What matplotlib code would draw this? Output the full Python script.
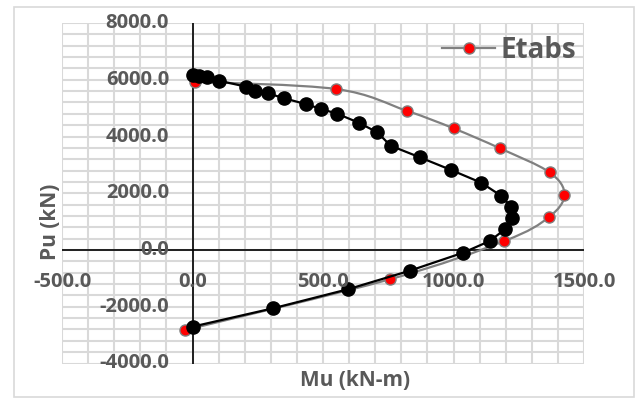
import matplotlib.pyplot as plt
from matplotlib.path import Path
from matplotlib.patches import PathPatch, Rectangle
from matplotlib.lines import Line2D
import numpy as np

# Interaction diagram: ETABS curve vs. hand calculation
etabs_mu = [10, 550, 820, 1000, 1178, 1368, 1425, 1365, 1195, 758, -27]
etabs_pu = [5930, 5673, 4909, 4288, 3583, 2737, 1950, 1152, 317, -1027, -2819]

calc_mu = [0, 24, 56, 101, 206, 241, 289, 352, 433, 493, 554, 637, 708, 759,
           871, 991, 1106, 1181, 1221, 1225, 1197, 1139, 1037, 833, 595, 309, 0]
calc_pu = [6150, 6142, 6107, 5966, 5755, 5613, 5521, 5345, 5144, 4968, 4804,
           4486, 4147, 3676, 3266, 2819, 2372, 1920, 1526, 1117, 729, 317, -95,
           -729, -1385, -2054, -2702]

x_ticks = [-500, 0, 500, 1000, 1500]
y_ticks = [-4000, -2000, 0, 2000, 4000, 6000, 8000]

GRID = '#d9d9d9'
TEXT = '#595959'
FONT = 'Open Sans'


def smooth_path(xs, ys):
    # Excel-style smoothed line: cubic Bezier through each point
    pts = np.column_stack([xs, ys]).astype(float)
    n = len(pts)
    verts = [pts[0]]
    codes = [Path.MOVETO]
    for i in range(n - 1):
        p0 = pts[i - 1] if i > 0 else pts[i]
        p1 = pts[i]
        p2 = pts[i + 1]
        p3 = pts[i + 2] if i + 2 < n else pts[i + 1]
        c1 = p1 + (p2 - p0) / 6.0
        c2 = p2 - (p3 - p1) / 6.0
        verts += [c1, c2, p2]
        codes += [Path.CURVE4] * 3
    return Path(verts, codes)


fig = plt.figure(figsize=(6.4, 3.99), dpi=100)
fig.patches.append(Rectangle((14 / 640, 2 / 399), 620 / 640, 390 / 399,
                             transform=fig.transFigure, fill=False,
                             edgecolor=GRID, linewidth=1.2))

ax = fig.add_axes([62 / 640, 35.5 / 399, 522 / 640, 340.5 / 399])
ax.set_xlim(-500, 1500)
ax.set_ylim(-4000, 8000)
for s in ax.spines.values():
    s.set_visible(False)
ax.set_xticks([])
ax.set_yticks([])

# major + minor gridlines, all the same light grey
for gx in np.arange(-500, 1501, 100):
    ax.plot([gx, gx], [-4000, 8000], color=GRID, lw=1.5, zorder=0)
for gy in np.arange(-4000, 8001, 400):
    ax.plot([-500, 1500], [gy, gy], color=GRID, lw=1.5, zorder=0)

# axes through origin
ax.plot([0, 0], [-4000, 8000], color='black', lw=1.2, zorder=1)
ax.plot([-500, 1500], [0, 0], color='black', lw=1.2, zorder=1)

# ETABS series
ax.add_patch(PathPatch(smooth_path(etabs_mu, etabs_pu), fill=False,
                       edgecolor='#808080', lw=1.6, zorder=2))
ax.plot(etabs_mu, etabs_pu, ls='none', marker='o', ms=8, mfc='red',
        mec='#808080', mew=1.0, zorder=3, clip_on=False)

# hand-calculated series
ax.plot(calc_mu, calc_pu, color='black', lw=1.6, marker='o', ms=9.5,
        mfc='black', mec='black', zorder=4, clip_on=False)

# tick labels placed next to the axes
for t in y_ticks:
    ax.text(-90, t, f'{t:.1f}', ha='right', va='center', fontsize=14.5,
            fontweight='bold', color=TEXT, family=FONT, zorder=5)
for t in x_ticks:
    ax.text(t, -1130, f'{t:.1f}', ha='center', va='center', fontsize=14.5,
            fontweight='bold', color=TEXT, family=FONT, zorder=5)

fig.text(355 / 640, 1 - 380 / 399, 'Mu (kN-m)', ha='center', va='center',
         fontsize=15, fontweight='bold', color=TEXT, family=FONT)
fig.text(50 / 640, 1 - 222 / 399, 'Pu (kN)', ha='center', va='center',
         rotation=90, fontsize=15, fontweight='bold', color=TEXT, family=FONT)

handle = Line2D([], [], color='#808080', lw=1.6, marker='o', ms=8,
                mfc='red', mec='#808080', mew=1.0)
leg = fig.legend([handle], ['Etabs'], loc='center right',
                 bbox_to_anchor=(590 / 640, 1 - 50 / 399), frameon=False,
                 handlelength=1.9, handletextpad=0.2, borderpad=0,
                 prop={'family': FONT, 'weight': 'bold', 'size': 20})
for txt in leg.get_texts():
    txt.set_color(TEXT)

fig.savefig('out.png', dpi=100)
